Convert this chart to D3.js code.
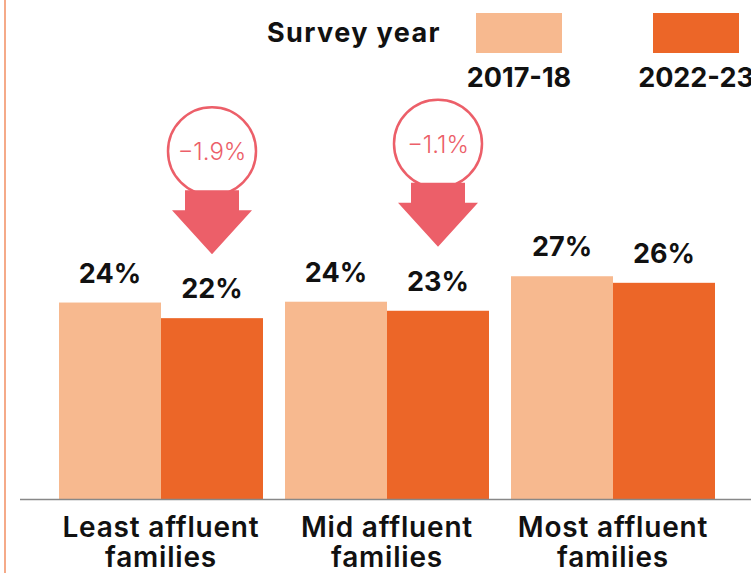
<!DOCTYPE html>
<html>
<head>
<meta charset="utf-8">
<script src="https://cdn.jsdelivr.net/npm/d3@7"></script>
<style>
  body { margin: 0; background: #fff; }
  svg { display: block; font-family: Inter, "Open Sans", sans-serif; }
</style>
</head>
<body>
<div id="chart"></div>
<script>
const categories = [["Least affluent", "families"], ["Mid affluent", "families"], ["Most affluent", "families"]];
const years = ["2017-18", "2022-23"];
const values2017 = [23.9, 24.0, 27.1];
const values2022 = [22.0, 22.9, 26.3];
const colors = { "2017-18": "#f7b98f", "2022-23": "#ec6628" };
const arrowColor = "#ec5f69";

const width = 751, height = 573;
const baseY = 499;

const data = categories.map((c, i) => ({
  key: c.join(" "),
  lines: c,
  values: [
    { year: years[0], value: values2017[i] },
    { year: years[1], value: values2022[i] }
  ],
  change: values2022[i] - values2017[i]
}));

const svg = d3.select("#chart").append("svg")
  .attr("width", width)
  .attr("height", height);

// left accent line
svg.append("line")
  .attr("x1", 5).attr("x2", 5).attr("y1", 0).attr("y2", height)
  .attr("stroke", "#f3956b").attr("stroke-width", 1.6);

const x0 = d3.scaleBand()
  .domain(data.map(d => d.key))
  .range([48, 726])
  .paddingInner(22 / 226)
  .paddingOuter(11 / 226);

const x1 = d3.scaleBand()
  .domain(years)
  .range([0, x0.bandwidth()]);

const y = d3.scaleLinear().domain([0, 60]).range([baseY, baseY - 60 * 8.22]);

const groups = svg.selectAll("g.group").data(data).enter()
  .append("g")
  .attr("class", "group")
  .attr("transform", d => `translate(${x0(d.key)},0)`);

groups.selectAll("rect").data(d => d.values).enter()
  .append("rect")
  .attr("x", d => x1(d.year))
  .attr("y", d => y(d.value))
  .attr("width", x1.bandwidth())
  .attr("height", d => baseY - y(d.value))
  .attr("fill", d => colors[d.year]);

groups.selectAll("text.val").data(d => d.values).enter()
  .append("text")
  .attr("class", "val")
  .attr("x", d => x1(d.year) + x1.bandwidth() / 2)
  .attr("y", d => y(d.value) - 20)
  .attr("text-anchor", "middle")
  .attr("font-size", 27)
  .attr("font-weight", 700)
  .attr("fill", "#111")
  .text(d => Math.round(d.value) + "%");

// change arrows over the 2022-23 bars (only where drawn in the original)
const arrows = groups.filter(d => Math.abs(d.change) >= 1 && d.key !== data[2].key)
  .append("g")
  .attr("transform", d => `translate(${x1(years[1]) + x1.bandwidth() / 2},${y(d.values[1].value) - 64})`);

arrows.append("circle")
  .attr("cx", 0).attr("cy", -103).attr("r", 44)
  .attr("fill", "#fff")
  .attr("stroke", arrowColor)
  .attr("stroke-width", 2.5);

arrows.append("path")
  .attr("d", "M0,0 L-40,-44 L-27,-44 L-27,-64 L27,-64 L27,-44 L40,-44 Z")
  .attr("fill", arrowColor);

arrows.append("text")
  .attr("x", 0).attr("y", -94)
  .attr("text-anchor", "middle")
  .attr("font-size", 24)
  .attr("font-weight", 300)
  .attr("fill", arrowColor)
  .text(d => "\u2212" + Math.abs(d.change).toFixed(1) + "%");

// baseline
svg.append("line")
  .attr("x1", 20).attr("x2", width).attr("y1", baseY + 0.5).attr("y2", baseY + 0.5)
  .attr("stroke", "#888").attr("stroke-width", 1.5);

// category labels
const cat = svg.selectAll("text.cat").data(data).enter()
  .append("text")
  .attr("class", "cat")
  .attr("text-anchor", "middle")
  .attr("font-size", 28)
  .attr("font-weight", 600)
  .attr("letter-spacing", 0.8)
  .attr("fill", "#111");
cat.selectAll("tspan").data(d => d.lines.map(l => ({ l, x: x0(d.key) + x0.bandwidth() / 2 }))).enter()
  .append("tspan")
  .attr("x", d => d.x)
  .attr("y", (d, i) => 537 + i * 30)
  .text(d => d.l);

// legend
svg.append("text")
  .attr("x", 441).attr("y", 42)
  .attr("text-anchor", "end")
  .attr("font-size", 27)
  .attr("font-weight", 700)
  .attr("letter-spacing", 1.4)
  .attr("fill", "#111")
  .text("Survey year");

const legendX = d3.scalePoint().domain(years).range([519, 696]);
const leg = svg.selectAll("g.leg").data(years).enter()
  .append("g").attr("class", "leg")
  .attr("transform", d => `translate(${legendX(d)},0)`);
leg.append("rect")
  .attr("x", -43).attr("y", 13).attr("width", 86).attr("height", 40)
  .attr("fill", d => colors[d]);
leg.append("text")
  .attr("y", 87)
  .attr("text-anchor", "middle")
  .attr("font-size", 27)
  .attr("font-weight", 700)
  .attr("fill", "#111")
  .text(d => d);
</script>
</body>
</html>
